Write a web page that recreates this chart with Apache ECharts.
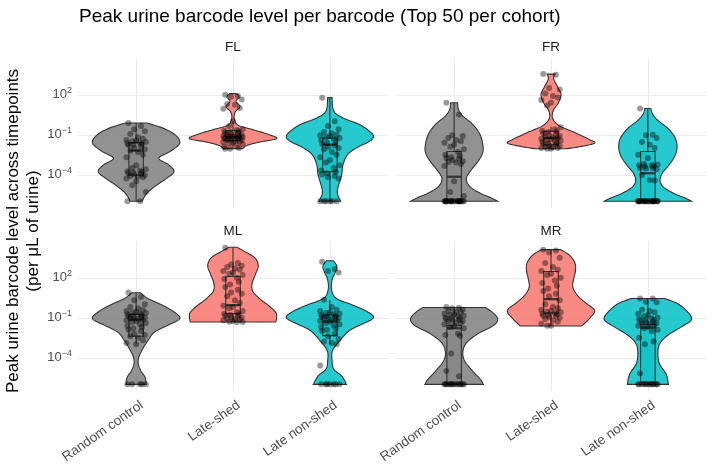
<!DOCTYPE html>
<html>
<head>
<meta charset="utf-8">
<script src="https://cdn.jsdelivr.net/npm/echarts@6.0.0/dist/echarts.min.js"></script>
<style>
html, body { margin: 0; padding: 0; background: #fff; }
#chart { width: 712px; height: 467px; }
</style>
</head>
<body>
<div id="chart"></div>
<script>
const categories = ['Random control', 'Late-shed', 'Late non-shed'];
const panels = ['FL', 'FR', 'ML', 'MR'];
const yTicks = [-4, -1, 2];            // log10 of the labelled levels
const colors = ['#7f7f7f', '#F8766D', '#00BFC4'];
const font = 'Liberation Sans, Arial, sans-serif';

// log10 peak level per barcode, one list per category
const flPoints = [
  [-0.12, -0.35, -0.6, -0.75, -0.95, -1.2, -1.3, -1.4, -1.45, -1.5, -1.55, -1.6, -1.65, -1.7, -1.75, -1.8, -1.9, -2.0, -2.1, -2.2, -2.3, -2.5, -2.7, -3.3, -3.5, -3.6, -3.7, -3.75, -3.8, -3.85, -3.9, -3.95, -4.0, -4.05, -4.1, -4.15, -4.2, -4.3, -4.5, -4.8, -5.3, -6.0, -6.0],
  [2.0, 1.9, 1.85, 1.65, 1.3, 1.25, 1.0, 0.95, 0.0, -0.35, -0.6, -0.65, -0.7, -0.75, -0.8, -0.85, -0.9, -0.95, -1.0, -1.0, -1.05, -1.1, -1.1, -1.15, -1.15, -1.2, -1.2, -1.25, -1.25, -1.3, -1.3, -1.35, -1.35, -1.4, -1.4, -1.45, -1.5, -1.55, -1.6, -1.65, -1.7, -1.8, -1.9, -2.0, -2.05, -2.05],
  [1.78, 0.0, -0.35, -0.6, -0.8, -0.9, -1.0, -1.05, -1.1, -1.2, -1.25, -1.3, -1.4, -1.5, -1.6, -1.7, -1.8, -1.9, -2.0, -2.1, -2.3, -2.5, -2.7, -2.9, -3.1, -3.3, -3.5, -3.7, -3.8, -3.9, -4.0, -4.1, -4.2, -4.3, -6, -6, -6, -6, -6, -6]
];
const frPoints = [
  [1.4, 0.5, -1.05, -1.1, -1.25, -1.4, -1.5, -1.6, -1.75, -1.9, -2.1, -2.3, -2.5, -2.6, -2.7, -2.75, -2.8, -2.9, -3.0, -3.05, -3.1, -3.2, -3.35, -4.5, -5.3, -5.6, -6, -6, -6, -6, -6, -6, -6, -6, -6, -6, -6, -6, -6, -6, -6, -6, -6, -6, -6, -6],
  [3.55, 3.5, 2.5, 2.4, 2.1, 1.9, 1.8, 1.6, 1.4, 1.2, -0.45, -0.6, -0.7, -0.75, -0.8, -0.9, -1.0, -1.05, -1.1, -1.15, -1.2, -1.25, -1.3, -1.35, -1.4, -1.45, -1.5, -1.55, -1.6, -1.65, -1.7, -1.75, -1.8, -1.85, -1.9, -1.95, -2.0, -2.0, -2.05, -2.06],
  [0.97, -1.0, -1.05, -1.25, -1.55, -1.76, -2.0, -2.5, -2.77, -3.2, -3.25, -3.3, -3.3, -3.35, -3.4, -3.5, -3.5, -3.55, -3.6, -4.03, -4.4, -4.45, -6, -6, -6, -6, -6, -6, -6, -6, -6, -6, -6, -6, -6, -6, -6, -6, -6, -6, -6, -6, -6, -6]
];
const mlPoints = [
  [0.9, 0.55, 0.3, 0.0, -0.2, -0.3, -0.4, -0.5, -0.55, -0.6, -0.65, -0.7, -0.75, -0.8, -0.85, -0.9, -0.95, -1.0, -1.0, -1.05, -1.1, -1.15, -1.2, -1.25, -1.3, -1.4, -1.5, -1.6, -1.7, -1.8, -1.9, -2.0, -2.2, -2.3, -2.4, -2.5, -2.7, -2.9, -3.0, -6, -6, -6, -6, -6],
  [4.25, 3.1, 3.0, 2.9, 2.8, 2.7, 2.6, 2.5, 2.4, 2.3, 2.2, 2.0, 1.9, 1.7, 1.5, 1.3, 1.1, 0.9, 0.8, 0.6, 0.3, 0.1, -0.1, -0.2, -0.3, -0.5, -0.6, -0.7, -0.75, -0.8, -0.85, -0.9, -0.95, -1.0, -1.05, -1.1, -1.15, -1.2, -1.25, -1.3, -1.33, -1.33],
  [3.2, 2.65, 2.5, 2.4, 0.35, -0.2, -0.4, -0.5, -0.6, -0.65, -0.7, -0.75, -0.8, -0.85, -0.9, -0.95, -1.0, -1.0, -1.05, -1.1, -1.15, -1.2, -1.25, -1.3, -1.4, -1.5, -1.6, -1.7, -1.8, -1.9, -2.0, -2.2, -2.4, -2.6, -2.8, -2.9, -3.0, -4.6, -6, -6, -6, -6, -6, -6, -6]
];
const mrPoints = [
  [-0.2, -0.25, -0.3, -0.4, -0.5, -0.55, -0.6, -0.7, -0.75, -0.8, -0.85, -0.9, -1.0, -1.0, -1.05, -1.1, -1.15, -1.2, -1.25, -1.3, -1.35, -1.4, -1.5, -1.6, -1.7, -1.8, -2.2, -2.3, -2.35, -3.7, -5.0, -5.4, -6, -6, -6, -6, -6, -6, -6, -6, -6, -6, -6, -6, -6, -6],
  [4.1, 4.05, 3.9, 3.5, 3.1, 2.8, 2.6, 2.5, 2.3, 2.2, 2.0, 1.8, 1.6, 1.4, 1.2, 1.0, 0.8, 0.6, 0.3, 0.0, -0.2, -0.3, -0.4, -0.5, -0.55, -0.6, -0.65, -0.7, -0.75, -0.8, -0.85, -0.9, -0.95, -1.0, -1.1, -1.2, -1.3, -1.45, -1.6, -1.6],
  [0.44, 0.44, 0.2, 0.15, -0.4, -0.5, -0.6, -0.7, -0.8, -0.9, -1.0, -1.05, -1.1, -1.15, -1.2, -1.25, -1.3, -1.35, -1.4, -1.45, -1.5, -1.55, -1.6, -1.7, -1.8, -1.9, -2.0, -2.5, -2.8, -3.0, -5.2, -6, -6, -6, -6, -6, -6, -6, -6, -6, -6, -6, -6]
];

// violin outline: [log10 level, relative half width], top to bottom
const flViolins = [
  [[-0.12, 0.24], [-0.49, 0.6], [-1.0, 0.89], [-1.63, 1.0], [-2.26, 0.78], [-2.77, 0.52], [-3.27, 0.75], [-3.78, 0.87], [-4.28, 0.7], [-4.79, 0.47], [-5.29, 0.28], [-5.67, 0.19], [-6.0, 0.14]],
  [[2.08, 0.08], [1.85, 0.14], [1.5, 0.07], [1.1, 0.16], [0.7, 0.05], [0.2, 0.03], [-0.3, 0.12], [-0.62, 0.45], [-1.0, 0.83], [-1.3, 1.0], [-1.56, 0.6], [-1.81, 0.32], [-2.05, 0.22]],
  [[1.78, 0.05], [0.77, 0.09], [0.26, 0.3], [-0.24, 0.68], [-0.75, 0.91], [-1.13, 1.0], [-1.5, 0.91], [-2.01, 0.6], [-2.52, 0.4], [-3.27, 0.3], [-4.03, 0.27], [-4.79, 0.2], [-5.29, 0.17], [-5.67, 0.2], [-6.0, 0.25]]
];
const frViolins = [
  [[1.4, 0.08], [0.9, 0.1], [0.4, 0.2], [-0.2, 0.42], [-0.9, 0.58], [-1.6, 0.65], [-2.3, 0.66], [-3.0, 0.55], [-3.7, 0.38], [-4.3, 0.28], [-4.9, 0.36], [-5.4, 0.6], [-5.75, 0.85], [-6.0, 1.0]],
  [[3.55, 0.09], [3.2, 0.06], [2.6, 0.15], [2.0, 0.23], [1.4, 0.17], [0.8, 0.05], [0.2, 0.04], [-0.35, 0.2], [-0.85, 0.55], [-1.35, 0.87], [-1.63, 1.0], [-1.88, 0.7], [-2.06, 0.35]],
  [[0.97, 0.07], [0.6, 0.1], [0.1, 0.22], [-0.5, 0.45], [-1.2, 0.62], [-1.9, 0.67], [-2.6, 0.62], [-3.3, 0.48], [-3.9, 0.33], [-4.5, 0.28], [-5.0, 0.38], [-5.45, 0.62], [-5.8, 0.88], [-6.0, 1.0]]
];
const mlViolins = [
  [[0.87, 0.1], [0.44, 0.27], [-0.06, 0.6], [-0.57, 0.87], [-1.08, 1.0], [-1.58, 0.72], [-2.09, 0.42], [-2.72, 0.27], [-3.35, 0.15], [-3.99, 0.06], [-4.49, 0.05], [-5.0, 0.11], [-5.51, 0.21], [-6.01, 0.23]],
  [[4.29, 0.09], [4.0, 0.25], [3.5, 0.5], [2.9, 0.58], [2.3, 0.52], [1.6, 0.44], [1.0, 0.45], [0.4, 0.62], [-0.1, 0.82], [-0.6, 0.98], [-1.0, 1.0], [-1.33, 0.98]],
  [[3.28, 0.08], [2.85, 0.16], [2.39, 0.12], [1.84, 0.05], [1.08, 0.04], [0.44, 0.15], [-0.06, 0.53], [-0.57, 0.87], [-1.0, 1.0], [-1.46, 0.76], [-1.96, 0.45], [-2.72, 0.23], [-3.48, 0.06], [-4.24, 0.05], [-4.87, 0.09], [-5.38, 0.27], [-6.01, 0.38]]
];
const mrViolins = [
  [[-0.24, 0.72], [-0.6, 0.88], [-1.1, 1.0], [-1.6, 0.9], [-2.2, 0.55], [-2.9, 0.28], [-3.6, 0.2], [-4.24, 0.24], [-5.0, 0.42], [-5.63, 0.6], [-6.01, 0.67]],
  [[4.11, 0.22], [3.7, 0.42], [3.1, 0.55], [2.5, 0.56], [1.9, 0.52], [1.3, 0.5], [0.7, 0.6], [0.1, 0.8], [-0.45, 1.0], [-1.0, 0.9], [-1.4, 0.78], [-1.63, 0.7]],
  [[0.44, 0.38], [0.06, 0.68], [-0.57, 0.91], [-1.15, 1.0], [-1.71, 0.76], [-2.34, 0.45], [-2.97, 0.27], [-3.73, 0.23], [-4.49, 0.27], [-5.25, 0.42], [-6.01, 0.47]]
];

// boxplot: [lower whisker, q1, median, q3, upper whisker] in log10
const flBoxes = [[-6.0, -4.05, -2.2, -1.6, -0.12], [-2.05, -1.45, -1.15, -0.7, 0.0], [-6.0, -3.78, -1.75, -1.25, 1.78]];
const frBoxes = [[-6.0, -6.0, -4.16, -2.26, 1.4], [-2.06, -1.76, -1.25, -0.75, -0.4], [-6.0, -6.0, -3.9, -2.26, 0.97]];
const mlBoxes = [[-3.0, -2.4, -1.15, -0.75, 0.87], [-1.33, -0.7, -0.06, 2.09, 4.29], [-3.0, -2.35, -1.3, -0.8, 0.3]];
const mrBoxes = [[-6.0, -6.0, -1.8, -1.6, -0.24], [-1.63, -0.65, 0.39, 2.47, 4.11], [-6.0, -5.85, -1.75, -1.5, 0.44]];

const allPoints = [flPoints, frPoints, mlPoints, mrPoints];
const allViolins = [flViolins, frViolins, mlViolins, mrViolins];
const allBoxes = [flBoxes, frBoxes, mlBoxes, mrBoxes];

// horizontal spread of the jittered points, in category units
const jitterSteps = [-0.08, 0.05, -0.02, 0.09, -0.06, 0.02, 0.07, -0.1, 0.0, -0.04, 0.1, 0.04, -0.09, 0.06, -0.03];

const gridPos = [
  { left: 78, top: 58 }, { left: 396, top: 58 },
  { left: 78, top: 241 }, { left: 396, top: 241 }
];
const yMin = -6.51, yMax = 4.76;
const edgeColor = '#333333';

function smoothProfile(prof) {
  const out = [];
  const n = prof.length;
  for (let i = 0; i < n - 1; i++) {
    const p0 = prof[Math.max(i - 1, 0)], p1 = prof[i], p2 = prof[i + 1], p3 = prof[Math.min(i + 2, n - 1)];
    for (let s = 0; s < 8; s++) {
      const t = s / 8, t2 = t * t, t3 = t2 * t;
      const f = (a, b, c, d) => 0.5 * (2 * b + (-a + c) * t + (2 * a - 5 * b + 4 * c - d) * t2 + (-a + 3 * b - 3 * c + d) * t3);
      out.push([f(p0[0], p1[0], p2[0], p3[0]), Math.max(0.01, f(p0[1], p1[1], p2[1], p3[1]))]);
    }
  }
  out.push(prof[n - 1]);
  return out;
}

function gridItem(params, api) {
  const cs = params.coordSys;
  const st = { stroke: '#ebebeb', lineWidth: 1 };
  const children = [];
  yTicks.forEach(t => {
    const y = Math.round(api.coord([1, t])[1]) + 0.5;
    children.push({ type: 'line', shape: { x1: cs.x, y1: y, x2: cs.x + cs.width, y2: y }, style: st });
  });
  categories.forEach((c, i) => {
    const x = Math.round(api.coord([i + 1, 0])[0]) + 0.5;
    children.push({ type: 'line', shape: { x1: x, y1: cs.y, x2: x, y2: cs.y + cs.height }, style: st });
  });
  return { type: 'group', children };
}

function violinItem(violins, boxes) {
  return function (params, api) {
    const g = params.dataIndex, cx = g + 1;
    const prof = smoothProfile(violins[g]);
    const right = prof.map(d => api.coord([cx + d[1] * 0.45, d[0]]));
    const left = prof.slice().reverse().map(d => api.coord([cx - d[1] * 0.45, d[0]]));
    const b = boxes[g], hw = 0.075;
    const xc = api.coord([cx, 0])[0];
    const x0 = api.coord([cx - hw, 0])[0], x1 = api.coord([cx + hw, 0])[0];
    const y = v => api.coord([cx, v])[1];
    const edge = { stroke: edgeColor, lineWidth: 1.1 };
    return {
      type: 'group',
      children: [
        { type: 'polygon', shape: { points: right.concat(left) },
          style: { fill: echarts.color.modifyAlpha(colors[g], 0.85), stroke: edgeColor, lineWidth: 1.1 } },
        { type: 'line', shape: { x1: xc, y1: y(b[4]), x2: xc, y2: y(b[3]) }, style: edge },
        { type: 'line', shape: { x1: xc, y1: y(b[1]), x2: xc, y2: y(b[0]) }, style: edge },
        { type: 'rect', shape: { x: x0, y: y(b[3]), width: x1 - x0, height: y(b[1]) - y(b[3]) },
          style: { fill: echarts.color.modifyAlpha(colors[g], 0.5), stroke: edgeColor, lineWidth: 1.1 } },
        { type: 'line', shape: { x1: x0, y1: y(b[2]), x2: x1, y2: y(b[2]) }, style: { stroke: edgeColor, lineWidth: 2.2 } }
      ]
    };
  };
}

const grids = [], xAxes = [], yAxes = [], series = [];
panels.forEach((p, k) => {
  grids.push({ left: gridPos[k].left, top: gridPos[k].top, width: 310, height: 150, outerBoundsMode: 'none' });
  const bottom = k >= 2, leftCol = k % 2 === 0;
  xAxes.push({
    gridIndex: k, type: 'value', min: 0.4, max: 3.6,
    axisLine: { show: false }, axisTick: { show: false }, splitLine: { show: false },
    axisLabel: bottom ? {
      show: true, customValues: [1.06, 2.06, 3.06], rotate: 35, margin: 13,
      formatter: v => categories[Math.round(v) - 1],
      color: '#4d4d4d', fontSize: 13.5, fontFamily: font
    } : { show: false }
  });
  yAxes.push({
    gridIndex: k, type: 'value', min: yMin, max: yMax,
    axisLine: { show: false }, axisTick: { show: false }, splitLine: { show: false },
    axisLabel: leftCol ? {
      show: true, customValues: yTicks, margin: 6,
      formatter: v => '{b|10}{s|' + String(Math.round(v)).replace('-', '\u2212') + '}',
      rich: {
        b: { fontSize: 13, color: '#4d4d4d', fontFamily: font, lineHeight: 18 },
        s: { fontSize: 9, color: '#4d4d4d', fontFamily: font, lineHeight: 10, verticalAlign: 'top' }
      }
    } : { show: false }
  });
  series.push({
    type: 'custom', xAxisIndex: k, yAxisIndex: k, z: 1, silent: true,
    renderItem: gridItem, data: [[1, 0]]
  });
  series.push({
    type: 'custom', xAxisIndex: k, yAxisIndex: k, z: 2, silent: true,
    renderItem: violinItem(allViolins[k], allBoxes[k]),
    data: categories.map((c, i) => [i + 1, 0])
  });
  const pts = [];
  allPoints[k].forEach((list, g) => {
    list.forEach((v, i) => pts.push([g + 1 + jitterSteps[i % jitterSteps.length], v]));
  });
  series.push({
    type: 'scatter', xAxisIndex: k, yAxisIndex: k, z: 3, silent: true,
    symbolSize: 6, data: pts,
    itemStyle: { color: 'rgba(0,0,0,0.5)' }
  });
});

const stripPos = [[233, 47], [551, 47], [233, 231], [551, 231]];
const graphics = [
  { type: 'text', x: 79, y: 17,
    style: { text: 'Peak urine barcode level per barcode (Top 50 per cohort)', fontSize: 19, fontFamily: font,
      fill: '#000', align: 'left', verticalAlign: 'middle', textAlign: 'left', textVerticalAlign: 'middle' } },
  { type: 'text', x: 23, y: 231, rotation: Math.PI / 2,
    style: { text: 'Peak urine barcode level across timepoints\n(per \u03bcL of urine)', fontSize: 17, lineHeight: 20,
      fontFamily: font, fill: '#000', align: 'center', verticalAlign: 'middle', textAlign: 'center', textVerticalAlign: 'middle' } }
];
panels.forEach((p, k) => {
  graphics.push({ type: 'text', x: stripPos[k][0], y: stripPos[k][1],
    style: { text: p, fontSize: 13.5, fontFamily: font, fill: '#1a1a1a',
      align: 'center', verticalAlign: 'middle', textAlign: 'center', textVerticalAlign: 'middle' } });
});

const chart = echarts.init(document.getElementById('chart'), null, { renderer: 'canvas' });
chart.setOption({
  animation: false,
  backgroundColor: '#ffffff',
  grid: grids,
  xAxis: xAxes,
  yAxis: yAxes,
  series: series,
  graphic: graphics
});
</script>
</body>
</html>
